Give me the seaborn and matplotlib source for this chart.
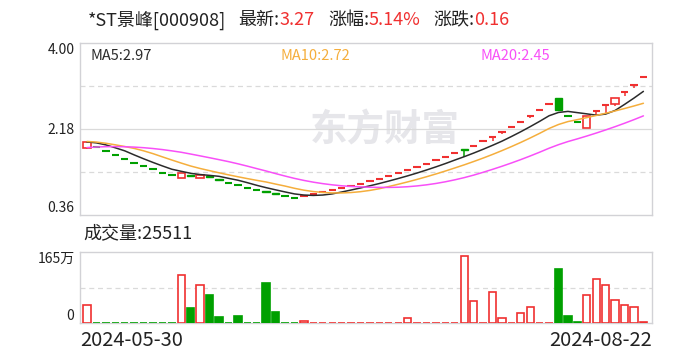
import numpy as np
import pandas as pd
import matplotlib
matplotlib.use("Agg")
import matplotlib.pyplot as plt
from matplotlib.patches import Rectangle
import seaborn as sns

# ================================
# Data
# ================================
stock_name = "*ST景峰[000908]"
last_price = "3.27"
pct_change = "5.14%"
abs_change = "0.16"
last_volume = "25511"
first_date = "2024-05-30"
last_date = "2024-08-22"

opens = [1.78, 1.80, 1.71, 1.62, 1.54, 1.46, 1.39, 1.32, 1.25, 1.19,
         1.13, 1.19, 1.14, 1.18, 1.11, 1.03, 0.98, 0.93, 0.88, 0.86,
         0.81, 0.76, 0.72, 0.76, 0.80, 0.84, 0.88, 0.92, 0.97, 1.02,
         1.07, 1.12, 1.18, 1.24, 1.30, 1.37, 1.44, 1.51, 1.59, 1.67,
         1.75, 1.82, 1.91, 2.01, 2.11, 2.22, 2.33, 2.45, 2.57, 2.70,
         2.84, 2.44, 2.32, 2.20, 2.56, 2.69, 2.70, 2.96, 3.11, 3.27]
highs = [1.89, 1.80, 1.71, 1.62, 1.54, 1.46, 1.39, 1.32, 1.25, 1.19,
         1.25, 1.21, 1.20, 1.21, 1.12, 1.03, 0.98, 0.93, 0.88, 0.86,
         0.82, 0.76, 0.72, 0.76, 0.80, 0.84, 0.88, 0.92, 0.97, 1.02,
         1.07, 1.12, 1.18, 1.24, 1.30, 1.37, 1.44, 1.51, 1.59, 1.67,
         1.75, 1.82, 1.91, 2.01, 2.11, 2.22, 2.33, 2.45, 2.57, 2.70,
         2.84, 2.44, 2.32, 2.44, 2.56, 2.69, 2.82, 2.96, 3.11, 3.27]
lows = [1.74, 1.80, 1.71, 1.62, 1.54, 1.46, 1.39, 1.32, 1.25, 1.19,
        1.13, 1.16, 1.13, 1.13, 1.08, 1.03, 0.98, 0.93, 0.88, 0.82,
        0.79, 0.76, 0.72, 0.76, 0.80, 0.84, 0.88, 0.92, 0.97, 1.02,
        1.07, 1.12, 1.18, 1.24, 1.30, 1.37, 1.44, 1.51, 1.59, 1.67,
        1.59, 1.82, 1.91, 1.93, 2.07, 2.22, 2.33, 2.41, 2.57, 2.70,
        2.57, 2.44, 2.32, 2.20, 2.46, 2.49, 2.65, 2.88, 3.05, 3.27]
closes = [1.89, 1.80, 1.71, 1.62, 1.54, 1.46, 1.39, 1.32, 1.25, 1.19,
          1.24, 1.18, 1.19, 1.16, 1.09, 1.03, 0.98, 0.93, 0.88, 0.84,
          0.80, 0.76, 0.72, 0.76, 0.80, 0.84, 0.88, 0.92, 0.97, 1.02,
          1.07, 1.12, 1.18, 1.24, 1.30, 1.37, 1.44, 1.51, 1.59, 1.67,
          1.73, 1.82, 1.91, 2.01, 2.11, 2.22, 2.33, 2.45, 2.57, 2.70,
          2.57, 2.44, 2.32, 2.44, 2.56, 2.69, 2.82, 2.96, 3.11, 3.27]
# volume in 万手
volumes = [42, 1.2, 0.9, 0.8, 0.8, 0.9, 1.0, 1.0, 1.1, 1.5,
           111, 36, 88, 65, 15, 1.5, 17, 1.2, 1.5, 93.6,
           26.7, 1.3, 1.8, 6, 1.2, 1.0, 0.9, 0.9, 1.0, 1.0,
           1.0, 1.0, 1.1, 1.2, 11.5, 1.2, 1.0, 1.0, 1.1, 1.3,
           155, 51, 1.5, 72, 11.5, 1.5, 23.7, 37.5, 1.5, 1.6,
           125, 17, 2.0, 64.5, 101, 87.5, 53, 41.5, 37, 2.55]

# closes of the sessions before 05-30, estimated so the MA lines start where they do
closes_before = [1.55, 1.57, 1.58, 1.60, 1.62, 1.64, 1.67, 1.70, 1.73, 1.84,
                 1.93, 1.96, 1.95, 1.90, 1.86, 1.90, 1.92, 1.93, 1.86]

price_ticks = [0.36, 2.18, 4.00]
vol_max = 165

# ================================
# Setup
# ================================
sns.set_theme(style="white")
plt.rcParams["font.family"] = ["Noto Sans CJK SC", "DejaVu Sans"]

RED = "#f03030"
GREEN = "#00a000"
MA_COLORS = {"MA5": "#2b2b2b", "MA10": "#f5ae3c", "MA20": "#f84ff8"}
FRAME = "#d2d2d6"
GRID = "#dadada"

W, H = 688, 360


def fx(x):
    return x / W


def fy(y):
    return 1 - y / H


fig = plt.figure(figsize=(6.88, 3.60), dpi=100)
ax = fig.add_axes([fx(80), fy(214.7), (651.7 - 80) / W, 172 / H])
axv = fig.add_axes([fx(80), fy(323.3), (651.7 - 80) / W, 71.6 / H])

n = len(closes)
x = np.arange(n)
body_w = 0.78

# ================================
# Moving averages
# ================================
all_close = pd.Series(closes_before + closes)
ma = pd.DataFrame({
    "x": np.arange(-len(closes_before), n),
    "MA5": all_close.rolling(5).mean(),
    "MA10": all_close.rolling(10).mean(),
    "MA20": all_close.rolling(20).mean(),
})
ma = ma[ma["x"] >= 0]

# ================================
# Price panel
# ================================
# watermark, placed in axes fraction
ax.text((385 - 80) / 571.7, (214.7 - 129.5) / 172, "东方财富", transform=ax.transAxes,
        fontsize=27, fontweight="bold", color="#e6e6ea", ha="center", va="center", zorder=0)

ax.axhline(1.27, color=GRID, lw=0.9, ls=(0, (4, 3)), zorder=1)
ax.axhline(2.18, color=GRID, lw=0.9, zorder=1)
ax.axhline(3.09, color=GRID, lw=0.9, ls=(0, (4, 3)), zorder=1)

prev = [closes_before[-1]] + closes[:-1]
for i in range(n):
    o, h, l, c = opens[i], highs[i], lows[i], closes[i]
    if c > o:
        col = RED
    elif c < o:
        col = GREEN
    else:
        col = RED if c > prev[i] else GREEN
    top, bot = max(o, c), min(o, c)
    if h > top:
        ax.vlines(i, top, h, color=col, lw=1.1, zorder=3)
    if l < bot:
        ax.vlines(i, l, bot, color=col, lw=1.1, zorder=3)
    if o == c:
        ax.hlines(c, i - body_w / 2, i + body_w / 2, color=col, lw=1.5, zorder=4)
    elif c > o:
        ax.add_patch(Rectangle((i - body_w / 2, bot), body_w, top - bot,
                               facecolor="white", edgecolor=col, lw=1.2, zorder=4))
    else:
        ax.add_patch(Rectangle((i - body_w / 2, bot), body_w, top - bot,
                               facecolor=col, edgecolor=col, lw=1.0, zorder=4))

for name, col in MA_COLORS.items():
    sns.lineplot(data=ma, x="x", y=name, ax=ax, color=col, lw=1.1, legend=False, zorder=5)

ax.set_xlim(-0.74, 59.88)
ax.set_ylim(price_ticks[0], price_ticks[-1])
ax.set_yticks(price_ticks)
ax.set_yticklabels([f"{t:.2f}" for t in price_ticks])
ax.set_xticks([])
ax.set_xlabel("")
ax.set_ylabel("")
ax.tick_params(axis="y", length=0, pad=4, labelsize=10, labelcolor="#222222")
labs = ax.get_yticklabels()
labs[0].set_va("bottom")
labs[-1].set_va("top")
for s in ax.spines.values():
    s.set_color(FRAME)
    s.set_linewidth(1.0)

ma_last = ma.iloc[-1]
ma_text_x = {"MA5": 91, "MA10": 281, "MA20": 481}
for name, col in MA_COLORS.items():
    ax.text((ma_text_x[name] - 80) / 571.7, 0.925, f"{name}:{ma_last[name]:.2f}",
            transform=ax.transAxes, fontsize=10.5, color=col, ha="left", va="center")

# ================================
# Volume panel
# ================================
axv.axhline(vol_max / 2, color=GRID, lw=0.9, ls=(0, (4, 3)), zorder=1)
for i in range(n):
    col = RED if closes[i] > prev[i] else GREEN
    if col == RED:
        axv.bar(i, volumes[i], width=body_w, facecolor="white", edgecolor=col, lw=1.2, zorder=3)
    else:
        axv.bar(i, volumes[i], width=body_w, facecolor=col, edgecolor=col, lw=1.2, zorder=3)

axv.set_xlim(-0.74, 59.88)
axv.set_ylim(0, vol_max)
axv.set_yticks([0, vol_max])
axv.set_yticklabels(["0", f"{vol_max}万"])
axv.set_xticks([])
axv.tick_params(axis="y", length=0, pad=4, labelsize=10, labelcolor="#222222")
vlabs = axv.get_yticklabels()
vlabs[0].set_va("bottom")
vlabs[-1].set_va("top")
for s in axv.spines.values():
    s.set_color(FRAME)
    s.set_linewidth(1.0)

# ================================
# Header and footer texts
# ================================
head_y = fy(20)
fig.text(fx(88), head_y, stock_name, fontsize=13, color="#222222", va="center")
fig.text(fx(238), head_y, "最新:", fontsize=13, color="#222222", va="center")
fig.text(fx(279), head_y, last_price, fontsize=13, color=RED, va="center")
fig.text(fx(328), head_y, "涨幅:", fontsize=13, color="#222222", va="center")
fig.text(fx(369), head_y, pct_change, fontsize=13, color=RED, va="center")
fig.text(fx(433), head_y, "涨跌:", fontsize=13, color="#222222", va="center")
fig.text(fx(474), head_y, abs_change, fontsize=13, color=RED, va="center")

fig.text(fx(83), fy(233), f"成交量:{last_volume}", fontsize=13, color="#222222", va="center")

fig.text(fx(80), fy(341), first_date, fontsize=14.5, color="#222222", ha="left", va="center")
fig.text(fx(652), fy(341), last_date, fontsize=14.5, color="#222222", ha="right", va="center")

fig.savefig("out.png", dpi=100)
